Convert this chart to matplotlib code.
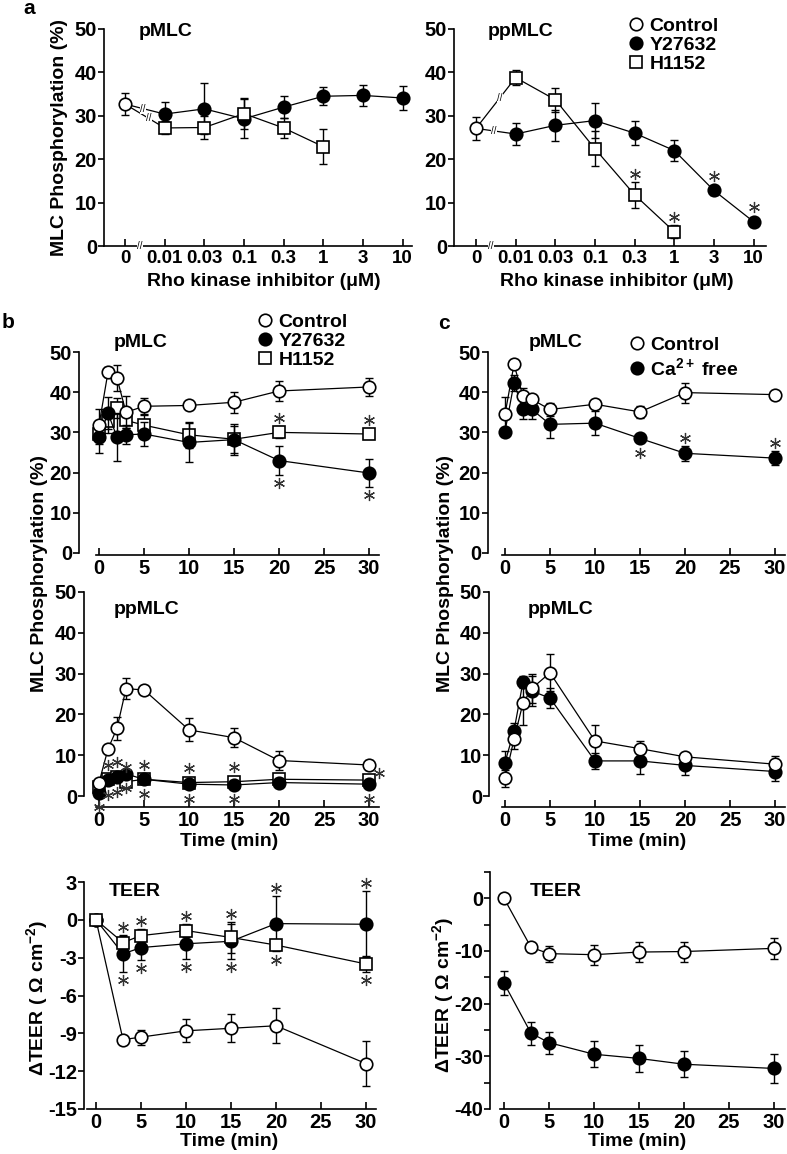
import matplotlib
matplotlib.use('Agg')
import matplotlib.pyplot as plt
from matplotlib.lines import Line2D
from matplotlib.ticker import MultipleLocator

plt.rcParams['font.family'] = ['Liberation Sans', 'DejaVu Sans']
plt.rcParams['font.weight'] = 'bold'
plt.rcParams['font.size'] = 14
plt.rcParams['axes.unicode_minus'] = False
plt.rcParams['mathtext.fontset'] = 'custom'
plt.rcParams['mathtext.rm'] = 'Liberation Sans:bold'
plt.rcParams['mathtext.bf'] = 'Liberation Sans:bold'
plt.rcParams['mathtext.it'] = 'Liberation Sans:bold'

# ---------------- DATA ----------------
# panel a : dose response (categorical doses, uM)
doses = ['0', '0.01', '0.03', '0.1', '0.3', '1', '3', '10']

a_p_ctrl, a_p_ctrl_err = 32.7, 2.6
a_p_y = [30.4, 31.6, 29.3, 32.0, 34.5, 34.7, 34.1]
a_p_y_err = [2.7, 5.9, 4.5, 2.6, 2.1, 2.5, 2.8]
a_p_h = [27.2, 27.3, 30.5, 27.2, 22.9]
a_p_h_err = [1.5, 2.7, 3.5, 2.2, 4.0]

a_pp_ctrl, a_pp_ctrl_err = 27.1, 2.6
a_pp_y = [25.8, 27.8, 28.9, 26.0, 22.0, 12.8, 5.6]
a_pp_y_err = [2.6, 3.6, 4.0, 2.7, 2.5, 1.0, 0.6]
a_pp_y_sig = ['', '', '', '', '', 'a', 'a']
a_pp_h = [38.8, 33.7, 22.4, 11.8, 3.3]
a_pp_h_err = [1.8, 2.8, 4.0, 3.0, 1.5]
a_pp_h_sig = ['', '', '', 'a', 'a']

# panels b, c : time course
t_mlc = [0, 1, 2, 3, 5, 10, 15, 20, 30]
t_teer = [0, 3, 5, 10, 15, 20, 30]

b_p_ctrl = [31.8, 45.0, 43.5, 35.0, 36.5, 36.7, 37.5, 40.3, 41.3]
b_p_ctrl_err = [4.0, 1.3, 3.3, 4.0, 2.0, 1.0, 2.6, 2.4, 2.3]
b_p_y = [28.8, 34.8, 28.8, 29.4, 29.6, 27.5, 28.2, 23.0, 19.9]
b_p_y_err = [4.0, 4.0, 6.0, 2.4, 3.1, 4.8, 3.3, 3.6, 3.6]
b_p_y_sig = ['', '', '', '', '', '', '', 'b', 'b']
b_p_h = [29.7, 32.9, 36.0, 33.0, 31.8, 29.4, 28.3, 30.0, 29.6]
b_p_h_err = [2.5, 3.0, 2.5, 2.0, 2.5, 3.2, 3.8, 1.5, 1.0]
b_p_h_sig = ['', '', '', '', '', '', '', 'a', 'a']

b_pp_ctrl = [3.3, 11.5, 16.6, 26.3, 26.0, 16.2, 14.3, 8.7, 7.6]
b_pp_ctrl_err = [0.8, 0.6, 2.8, 2.5, 0.8, 2.8, 2.3, 2.4, 1.2]
b_pp_y = [0.8, 3.9, 4.6, 5.4, 4.1, 2.9, 2.7, 3.3, 2.9]
b_pp_y_err = [0.5, 0.6, 0.6, 0.6, 0.5, 0.5, 0.4, 0.5, 0.5]
b_pp_y_sig = ['b', 'b', 'b', 'b', 'b', 'b', 'b', '', 'b']
b_pp_h = [2.3, 4.1, 4.7, 3.5, 4.1, 3.3, 3.5, 4.1, 3.9]
b_pp_h_err = [0.5, 0.5, 0.5, 0.5, 0.5, 0.5, 0.5, 0.5, 0.5]
b_pp_h_sig = ['', 'a', 'a', 'a', 'a', 'a', 'a', '', 'r']

b_t_ctrl = [0, -9.5, -9.3, -8.8, -8.6, -8.4, -11.4]
b_t_ctrl_err = [0, 0.3, 0.6, 0.9, 1.1, 1.4, 1.8]
b_t_y = [0, -2.7, -2.2, -1.9, -1.7, -0.3, -0.35]
b_t_y_err = [0, 1.4, 1.0, 1.2, 1.4, 2.2, 2.6]
b_t_y_sig = ['', 'b', 'b', 'b', 'b', 'a', 'a']
b_t_h = [0, -1.8, -1.25, -0.85, -1.4, -2.0, -3.5]
b_t_h_err = [0, 0.6, 0.5, 0.5, 1.2, 0.4, 0.6]
b_t_h_sig = ['', 'a', 'a', 'a', 'a', 'b', 'b']

c_p_ctrl = [34.5, 46.9, 39.0, 38.2, 35.7, 37.0, 35.1, 39.9, 39.4]
c_p_ctrl_err = [4.3, 1.0, 2.0, 1.0, 1.5, 0.5, 1.5, 2.5, 0.5]
c_p_ca = [30.2, 42.3, 35.7, 35.7, 32.0, 32.3, 28.5, 24.8, 23.6]
c_p_ca_err = [0.6, 2.0, 2.3, 2.4, 3.3, 3.0, 1.0, 1.8, 1.8]
c_p_ca_sig = ['', '', '', '', '', '', 'b', 'a', 'a']

c_pp_ctrl = [4.3, 13.9, 22.8, 26.4, 30.2, 13.5, 11.6, 9.6, 7.8]
c_pp_ctrl_err = [2.0, 2.5, 5.5, 3.5, 4.5, 3.8, 2.0, 1.0, 2.0]
c_pp_ca = [8.2, 16.0, 28.0, 25.7, 24.0, 8.6, 8.6, 7.5, 6.0]
c_pp_ca_err = [2.9, 2.0, 1.5, 3.6, 2.4, 2.0, 3.3, 2.4, 2.3]

c_t_ctrl = [0, -9.3, -10.5, -10.7, -10.2, -10.1, -9.5]
c_t_ctrl_err = [0, 0.9, 1.5, 1.9, 1.9, 1.9, 2.0]
c_t_ca = [-16.1, -25.6, -27.4, -29.6, -30.4, -31.5, -32.3]
c_t_ca_err = [2.3, 2.2, 2.1, 2.5, 2.5, 2.5, 2.7]

# ---------------- FIGURE ----------------
W, H = 787, 1154
fig = plt.figure(figsize=(W / 100, H / 100), dpi=100)

MS = 9
TICK_FS = 14.5


def add_ax(l, r, t, b):
    # pixel box (from top-left) -> figure fraction
    return fig.add_axes([l / W, 1 - b / H, (r - l) / W, (b - t) / H])


def style(ax):
    ax.spines['top'].set_visible(False)
    ax.spines['right'].set_visible(False)
    ax.spines['left'].set_linewidth(1.2)
    ax.spines['bottom'].set_linewidth(1.2)
    ax.tick_params(axis='y', which='both', direction='out', length=4, width=1.2, pad=1, labelsize=TICK_FS)
    ax.tick_params(axis='x', direction='in', length=5, width=1.2, pad=3, labelsize=TICK_FS)
    ax.patch.set_visible(False)


def series(ax, x, y, err, marker, face, z):
    ax.errorbar(x, y, yerr=err, fmt='none', ecolor='k', elinewidth=1.0,
                capsize=2.8, capthick=1.0, zorder=z, clip_on=False)
    ax.plot(x, y, '-', color='k', lw=0.9, marker=marker, ms=MS, mfc=face,
            mec='k', mew=1.2, zorder=z + 0.5, clip_on=False)


def stars(ax, x, y, err, flags):
    bb = ax.get_window_extent()
    y0, y1 = ax.get_ylim()
    x0, x1 = ax.get_xlim()
    ppu = bb.height / (y1 - y0)
    ppx = bb.width / (x1 - x0)
    for xi, yi, ei, f in zip(x, y, err, flags):
        if not f:
            continue
        d = (max(ei * ppu, 6.5) + 8) / ppu
        if f == 'a':
            px, py = xi, yi + d
        elif f == 'b':
            px, py = xi, yi - d
        else:
            px, py = xi + 9.5 / ppx, yi + 7 / ppu
        ax.plot(px, py, marker=(6, 2, 0), ms=8, mew=0.9, color='0.2',
                ls='none', clip_on=False, zorder=8)


def brk(ax, x, y):
    ax.text(x, y, '//', ha='center', va='center', fontsize=7, fontweight='normal',
            zorder=7, clip_on=False,
            bbox=dict(fc='white', ec='none', pad=0.1))


def ftext(x, y, s, **kw):
    fig.text(x / W, 1 - y / H, s, ha='center', va='center', **kw)


# ---- panel a ----
def dose_panel(l, r, zero_px, ctrl, ctrl_err, ys, ys_err, hs, hs_err, ysig=None, hsig=None):
    ax = add_ax(l, r, 29, 246)
    step = 39.65
    ax.set_xlim((l - zero_px) / step, (r - zero_px) / step)
    ax.set_ylim(0, 50)
    style(ax)
    ax.set_xticks(range(len(doses)))
    ax.set_xticklabels(doses)
    ax.tick_params(axis='x', labelsize=13.5)
    ax.set_yticks(range(0, 51, 10))
    xy = list(range(1, len(ys) + 1))
    xh = list(range(1, len(hs) + 1))
    # connections from control with axis-break marks
    for first, pos in ((ys[0], 0.45), (hs[0], 0.6)):
        ax.plot([0, 1], [ctrl, first], 'k-', lw=0.9, zorder=2)
        brk(ax, pos, ctrl + (first - ctrl) * pos)
    series(ax, xy, ys, ys_err, 'o', 'black', 3)
    series(ax, xh, hs, hs_err, 's', 'white', 4)
    series(ax, [0], [ctrl], [ctrl_err], 'o', 'white', 5)
    if ysig:
        stars(ax, xy, ys, ys_err, ysig)
    if hsig:
        stars(ax, xh, hs, hs_err, hsig)
    brk(ax, 0.38, 0)
    return ax


dose_panel(104, 412, 125, a_p_ctrl, a_p_ctrl_err, a_p_y, a_p_y_err, a_p_h, a_p_h_err)
dose_panel(454, 766, 476, a_pp_ctrl, a_pp_ctrl_err, a_pp_y, a_pp_y_err, a_pp_h, a_pp_h_err,
           a_pp_y_sig, a_pp_h_sig)


# ---- panels b, c ----
def time_ax(l, r, t, b, zero_px, ylim, spine_start, outward=0):
    ax = add_ax(l, r, t, b)
    ax.set_xlim((l - zero_px) / 9.0, (r - zero_px) / 9.0)
    ax.set_ylim(*ylim)
    style(ax)
    ax.set_xticks(range(0, 31, 5))
    ax.spines['bottom'].set_bounds(spine_start, (r - zero_px) / 9.0)
    if outward:
        ax.spines['bottom'].set_position(('outward', outward))
    return ax


# b pMLC
ax = time_ax(79, 379, 352, 553, 99, (0, 50), -0.3, 1.5)
ax.set_yticks(range(0, 51, 10))
series(ax, t_mlc, b_p_h, b_p_h_err, 's', 'white', 3)
series(ax, t_mlc, b_p_y, b_p_y_err, 'o', 'black', 4)
series(ax, t_mlc, b_p_ctrl, b_p_ctrl_err, 'o', 'white', 5)
stars(ax, t_mlc, b_p_y, b_p_y_err, b_p_y_sig)
stars(ax, t_mlc, b_p_h, b_p_h_err, b_p_h_sig)

# b ppMLC
ax = time_ax(84, 379, 592, 796, 99, (0, 50), -0.3, 8)
ax.set_yticks(range(0, 51, 10))
series(ax, t_mlc, b_pp_h, b_pp_h_err, 's', 'white', 3)
series(ax, t_mlc, b_pp_y, b_pp_y_err, 'o', 'black', 4)
series(ax, t_mlc, b_pp_ctrl, b_pp_ctrl_err, 'o', 'white', 5)
stars(ax, t_mlc, b_pp_y, b_pp_y_err, b_pp_y_sig)
stars(ax, t_mlc, b_pp_h, b_pp_h_err, b_pp_h_sig)

# b TEER
ax = time_ax(84, 376, 882, 1109, 96, (-15, 3), -1.0)
ax.set_yticks(range(-15, 4, 3))
series(ax, t_teer, b_t_ctrl, b_t_ctrl_err, 'o', 'white', 3)
series(ax, t_teer, b_t_y, b_t_y_err, 'o', 'black', 4)
series(ax, t_teer, b_t_h, b_t_h_err, 's', 'white', 5)
stars(ax, t_teer, b_t_y, b_t_y_err, b_t_y_sig)
stars(ax, t_teer, b_t_h, b_t_h_err, b_t_h_sig)

# c pMLC
ax = time_ax(488, 785, 352, 553, 505, (0, 50), -0.3, 1.5)
ax.set_yticks(range(0, 51, 10))
series(ax, t_mlc, c_p_ca, c_p_ca_err, 'o', 'black', 3)
series(ax, t_mlc, c_p_ctrl, c_p_ctrl_err, 'o', 'white', 4)
stars(ax, t_mlc, c_p_ca, c_p_ca_err, c_p_ca_sig)

# c ppMLC
ax = time_ax(489, 785, 592, 796, 505, (0, 50), -0.3, 8)
ax.set_yticks(range(0, 51, 10))
series(ax, t_mlc, c_pp_ca, c_pp_ca_err, 'o', 'black', 3)
series(ax, t_mlc, c_pp_ctrl, c_pp_ctrl_err, 'o', 'white', 4)

# c TEER
ax = time_ax(490, 785, 872, 1109, 504, (-40, 5), -0.4)
ax.set_yticks(range(-40, 1, 10))
ax.yaxis.set_minor_locator(MultipleLocator(5))
series(ax, t_teer, c_t_ca, c_t_ca_err, 'o', 'black', 3)
series(ax, t_teer, c_t_ctrl, c_t_ctrl_err, 'o', 'white', 4)

# ---------------- TEXT ----------------
ftext(29, 8, 'a', fontsize=15)
ftext(8, 322, 'b', fontsize=15)
ftext(444, 323, 'c', fontsize=15)

ftext(166, 32, 'pMLC')
ftext(521, 32, 'ppMLC')
ftext(141, 343, 'pMLC')
ftext(556, 343, 'pMLC')
ftext(147, 610, 'ppMLC')
ftext(561, 610, 'ppMLC')
ftext(135, 891, 'TEER')
ftext(556, 891, 'TEER')

ftext(60, 137, 'MLC Phosphorylation (%)', rotation=90)
ftext(40, 574, 'MLC Phosphorylation (%)', rotation=90)
ftext(445, 574, 'MLC Phosphorylation (%)', rotation=90)
ftext(37, 998, r'ΔTEER ( Ω cm$^{-2}$)', rotation=90)
ftext(443, 995, r'ΔTEER ( Ω cm$^{-2}$)', rotation=90)

ftext(264, 282, 'Rho kinase inhibitor (μM)')
ftext(617, 282, 'Rho kinase inhibitor (μM)')
ftext(229, 842, 'Time (min)')
ftext(637, 842, 'Time (min)')
ftext(229, 1142, 'Time (min)')
ftext(637, 1142, 'Time (min)')


def mk(marker, face):
    return Line2D([], [], marker=marker, ls='none', ms=MS, mfc=face, mec='k', mew=1.2)


leg_kw = dict(loc='upper left', frameon=False, handlelength=0.75, handletextpad=0.3,
              borderpad=0, borderaxespad=0, labelspacing=0.08, fontsize=14)
three = [mk('o', 'white'), mk('o', 'black'), mk('s', 'white')]
three_lab = ['Control', 'Y27632', 'H1152']
fig.legend(three, three_lab, bbox_to_anchor=(629 / W, 1 - 17 / H), **leg_kw)
fig.legend(three, three_lab, bbox_to_anchor=(258 / W, 1 - 313 / H), **leg_kw)
leg_kw['labelspacing'] = 0.18
fig.legend([mk('o', 'white'), mk('o', 'black')], ['Control', 'Ca$^{2+}$ free'],
           bbox_to_anchor=(630 / W, 1 - 336 / H), **leg_kw)

fig.savefig('out.png', dpi=100)
